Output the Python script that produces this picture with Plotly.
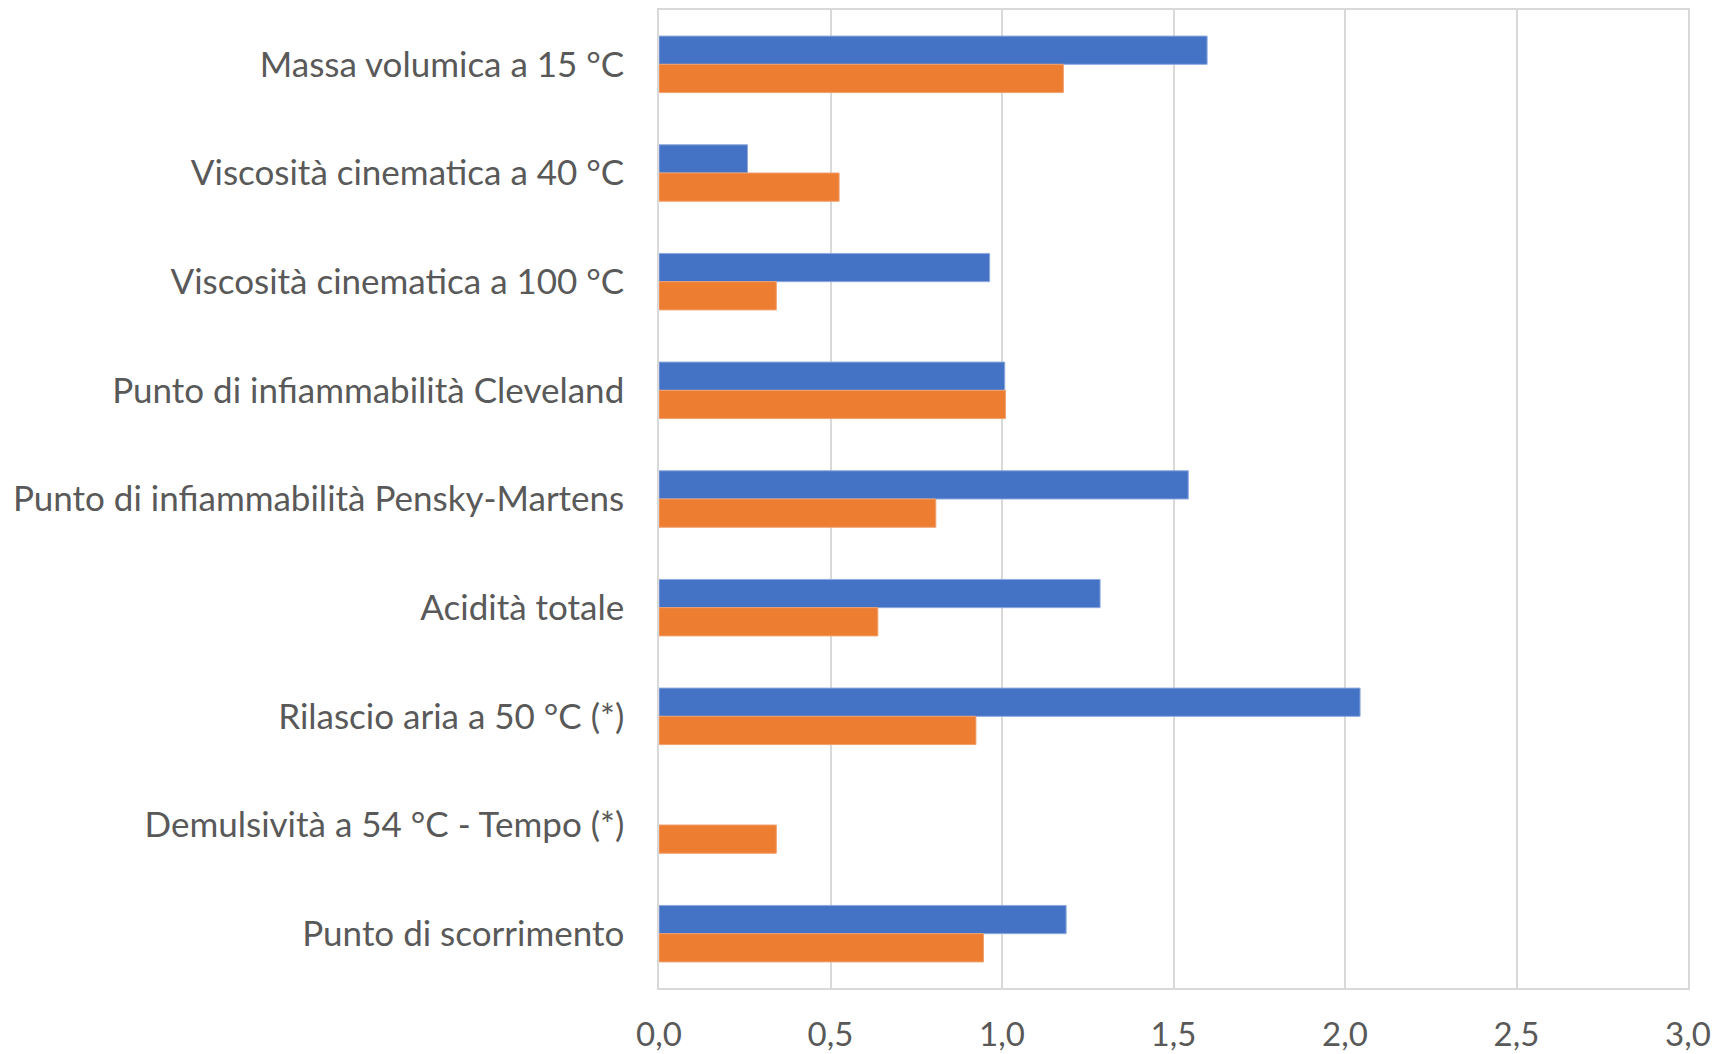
import plotly.graph_objects as go

categories = [
    "Massa volumica a 15 °C",
    "Viscosità cinematica a 40 °C",
    "Viscosità cinematica a 100 °C",
    "Punto di infiammabilità Cleveland",
    "Punto di infiammabilità Pensky-Martens",
    "Acidità totale",
    "Rilascio aria a 50 °C (*)",
    "Demulsività a 54 °C - Tempo (*)",
    "Punto di scorrimento",
]
serie_blu = [1.598, 0.258, 0.964, 1.008, 1.543, 1.286, 2.044, None, 1.187]
serie_arancio = [1.179, 0.525, 0.342, 1.010, 0.807, 0.638, 0.924, 0.342, 0.946]
x_ticks = [0, 0.5, 1.0, 1.5, 2.0, 2.5, 3.0]

FONT = "Lato"
GREY = "#595959"
LINE = "#d9d9d9"

fig = go.Figure()
fig.add_trace(go.Bar(y=categories, x=serie_blu, orientation="h", name="Serie 1",
                     marker=dict(color="#4472c4", line=dict(color="#8fa9de", width=1))))
fig.add_trace(go.Bar(y=categories, x=serie_arancio, orientation="h", name="Serie 2",
                     marker=dict(color="#ed7d31", line=dict(color="#f0a070", width=1))))

fig.update_layout(
    width=1723, height=1054,
    margin=dict(l=651, r=43, t=0, b=74),
    barmode="group", bargap=0.48, bargroupgap=0,
    showlegend=False,
    plot_bgcolor="white", paper_bgcolor="white",
    separators=",.",
    font=dict(family=FONT, color=GREY, size=35),
)
fig.update_xaxes(
    range=[0, 3], tickvals=x_ticks, tickformat=".1f",
    showgrid=True, gridcolor=LINE, gridwidth=1.5,
    showline=True, linecolor=LINE, linewidth=1.5, mirror=True,
    zeroline=False, ticks="", tickfont=dict(size=33, color=GREY),
    ticklabelstandoff=17,
)
fig.update_yaxes(
    autorange="reversed", showgrid=False,
    showline=True, linecolor=LINE, linewidth=1.5, mirror=True,
    ticks="", tickfont=dict(size=35, color=GREY),
    ticklabelstandoff=26,
)

fig.write_html("out.html")
